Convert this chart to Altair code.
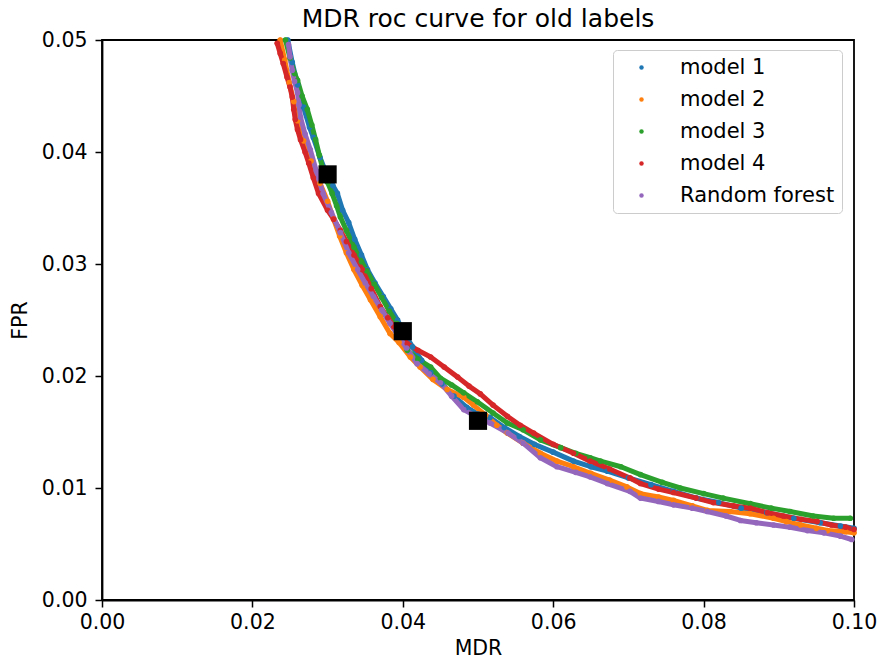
import altair as alt
import pandas as pd

TITLE = "MDR roc curve for old labels"
SERIES = ["model 1", "model 2", "model 3", "model 4", "Random forest"]
COLORS = ["#1f77b4", "#ff7f0e", "#2ca02c", "#d62728", "#9467bd"]

m1_x = [0.0247, 0.0253, 0.0260, 0.0268, 0.0276, 0.0281, 0.0290, 0.0300, 0.0307, 0.0313,
        0.0320, 0.0328, 0.0336, 0.0345, 0.0353, 0.0363, 0.0374, 0.0384, 0.0393, 0.0402,
        0.0413, 0.0425, 0.0437, 0.0452, 0.0468, 0.0485, 0.0500, 0.0516, 0.0535, 0.0555,
        0.0575, 0.0600, 0.0627, 0.0650, 0.0672, 0.0700, 0.0730, 0.0760, 0.0791, 0.0820,
        0.0850, 0.0884, 0.0920, 0.0955, 0.0982, 0.1000]
m1_y = [0.0500, 0.0480, 0.0460, 0.0440, 0.0422, 0.0413, 0.0395, 0.0378, 0.0370, 0.0363,
        0.0348, 0.0337, 0.0322, 0.0308, 0.0295, 0.0283, 0.0271, 0.0260, 0.0250, 0.0238,
        0.0226, 0.0214, 0.0203, 0.0193, 0.0182, 0.0172, 0.0166, 0.0163, 0.0154, 0.0146,
        0.0139, 0.0132, 0.0124, 0.0119, 0.0115, 0.0109, 0.0103, 0.0097, 0.0091, 0.0087,
        0.0082, 0.0078, 0.0073, 0.0069, 0.0066, 0.0064]

m2_x = [0.0237, 0.0243, 0.0249, 0.0255, 0.0260, 0.0268, 0.0278, 0.0290, 0.0300, 0.0308,
        0.0316, 0.0325, 0.0335, 0.0346, 0.0357, 0.0370, 0.0383, 0.0395, 0.0410, 0.0423,
        0.0440, 0.0459, 0.0481, 0.0494, 0.0510, 0.0525, 0.0539, 0.0560, 0.0583, 0.0605,
        0.0627, 0.0650, 0.0675, 0.0698, 0.0716, 0.0740, 0.0760, 0.0785, 0.0805, 0.0835,
        0.0862, 0.0893, 0.0910, 0.0929, 0.0950, 0.0965, 0.0989, 0.1000]
m2_y = [0.0500, 0.0482, 0.0462, 0.0445, 0.0428, 0.0410, 0.0392, 0.0372, 0.0356, 0.0340,
        0.0325, 0.0310, 0.0295, 0.0281, 0.0268, 0.0253, 0.0238, 0.0230, 0.0217, 0.0208,
        0.0197, 0.0188, 0.0181, 0.0174, 0.0165, 0.0156, 0.0149, 0.0140, 0.0131, 0.0124,
        0.0119, 0.0113, 0.0107, 0.0101, 0.0095, 0.0092, 0.0089, 0.0084, 0.0080, 0.0079,
        0.0077, 0.0073, 0.0070, 0.0067, 0.0064, 0.0062, 0.0061, 0.0060]

m3_x = [0.0244, 0.0250, 0.0256, 0.0260, 0.0266, 0.0273, 0.0279, 0.0284, 0.0289, 0.0294,
        0.0300, 0.0306, 0.0312, 0.0317, 0.0325, 0.0335, 0.0345, 0.0352, 0.0362, 0.0372,
        0.0382, 0.0392, 0.0400, 0.0406, 0.0420, 0.0437, 0.0450, 0.0465, 0.0481, 0.0499,
        0.0520, 0.0539, 0.0560, 0.0583, 0.0610, 0.0630, 0.0649, 0.0663, 0.0690, 0.0716,
        0.0745, 0.0769, 0.0800, 0.0826, 0.0862, 0.0890, 0.0915, 0.0946, 0.0973, 0.0995]
m3_y = [0.0500, 0.0484, 0.0470, 0.0464, 0.0450, 0.0438, 0.0424, 0.0411, 0.0397, 0.0384,
        0.0373, 0.0363, 0.0352, 0.0342, 0.0330, 0.0315, 0.0302, 0.0294, 0.0282, 0.0270,
        0.0258, 0.0247, 0.0236, 0.0223, 0.0215, 0.0208, 0.0198, 0.0192, 0.0185, 0.0177,
        0.0167, 0.0158, 0.0152, 0.0143, 0.0136, 0.0131, 0.0127, 0.0124, 0.0119, 0.0112,
        0.0105, 0.0100, 0.0095, 0.0091, 0.0086, 0.0082, 0.0079, 0.0075, 0.0073, 0.0073]

m4_x = [0.0233, 0.0237, 0.0241, 0.0246, 0.0250, 0.0253, 0.0255, 0.0257, 0.0260, 0.0264,
        0.0270, 0.0275, 0.0281, 0.0288, 0.0300, 0.0308, 0.0317, 0.0325, 0.0335, 0.0346,
        0.0358, 0.0370, 0.0380, 0.0388, 0.0397, 0.0406, 0.0420, 0.0437, 0.0455, 0.0473,
        0.0488, 0.0503, 0.0520, 0.0539, 0.0556, 0.0574, 0.0600, 0.0627, 0.0649, 0.0675,
        0.0702, 0.0716, 0.0740, 0.0760, 0.0790, 0.0813, 0.0840, 0.0862, 0.0885, 0.0906,
        0.0930, 0.0951, 0.0970, 0.0989, 0.1000]
m4_y = [0.0497, 0.0488, 0.0479, 0.0467, 0.0458, 0.0449, 0.0438, 0.0429, 0.0420, 0.0411,
        0.0400, 0.0390, 0.0377, 0.0363, 0.0348, 0.0340, 0.0330, 0.0320, 0.0308, 0.0295,
        0.0278, 0.0262, 0.0252, 0.0244, 0.0236, 0.0229, 0.0223, 0.0217, 0.0208, 0.0199,
        0.0191, 0.0184, 0.0174, 0.0164, 0.0156, 0.0149, 0.0139, 0.0131, 0.0124, 0.0117,
        0.0109, 0.0104, 0.0099, 0.0096, 0.0091, 0.0087, 0.0084, 0.0082, 0.0078, 0.0075,
        0.0072, 0.0070, 0.0067, 0.0065, 0.0063]

rf_x = [0.0248, 0.0250, 0.0253, 0.0256, 0.0260, 0.0262, 0.0264, 0.0270, 0.0277, 0.0285,
        0.0294, 0.0305, 0.0317, 0.0328, 0.0340, 0.0350, 0.0361, 0.0372, 0.0383, 0.0393,
        0.0405, 0.0419, 0.0435, 0.0450, 0.0465, 0.0481, 0.0500, 0.0516, 0.0540, 0.0560,
        0.0583, 0.0605, 0.0630, 0.0649, 0.0672, 0.0702, 0.0716, 0.0740, 0.0760, 0.0785,
        0.0805, 0.0830, 0.0849, 0.0870, 0.0893, 0.0915, 0.0938, 0.0960, 0.0982, 0.0997]
rf_y = [0.0496, 0.0485, 0.0473, 0.0463, 0.0453, 0.0442, 0.0431, 0.0416, 0.0402, 0.0383,
        0.0363, 0.0346, 0.0328, 0.0310, 0.0295, 0.0283, 0.0271, 0.0259, 0.0247, 0.0237,
        0.0225, 0.0211, 0.0202, 0.0194, 0.0182, 0.0170, 0.0163, 0.0158, 0.0149, 0.0140,
        0.0127, 0.0119, 0.0114, 0.0110, 0.0104, 0.0097, 0.0091, 0.0088, 0.0085, 0.0082,
        0.0079, 0.0075, 0.0071, 0.0069, 0.0067, 0.0065, 0.0062, 0.0060, 0.0057, 0.0054]

thr_x = [0.03, 0.04, 0.05]
thr_y = [0.038, 0.024, 0.016]

rows = []
for name, xs_, ys_ in zip(SERIES, [m1_x, m2_x, m3_x, m4_x, rf_x], [m1_y, m2_y, m3_y, m4_y, rf_y]):
    for i, (a, b) in enumerate(zip(xs_, ys_)):
        rows.append({"model": name, "MDR": a, "FPR": b, "i": i})
df = pd.DataFrame(rows)
thr = pd.DataFrame({"MDR": thr_x, "FPR": thr_y})

FONT = "DejaVu Sans"
FS = 20.5
xs = alt.Scale(domain=[0, 0.1], nice=False, zero=False)
ys = alt.Scale(domain=[0, 0.05], nice=False, zero=False)
cs = alt.Scale(domain=SERIES, range=COLORS)

xax = alt.Axis(title="MDR", values=[0, 0.02, 0.04, 0.06, 0.08, 0.10], format=".2f",
               grid=False, tickSize=7, tickWidth=1.5, tickColor="black",
               domainColor="black", domainWidth=1.8, labelFontSize=FS, titleFontSize=FS,
               labelFont=FONT, titleFont=FONT, titleFontWeight="normal",
               labelColor="black", titleColor="black", labelPadding=5, titlePadding=6,
               labelFlush=False)
yax = alt.Axis(title="FPR", values=[0, 0.01, 0.02, 0.03, 0.04, 0.05], format=".2f",
               grid=False, tickSize=7, tickWidth=1.5, tickColor="black",
               domainColor="black", domainWidth=1.8, labelFontSize=FS, titleFontSize=FS,
               labelFont=FONT, titleFont=FONT, titleFontWeight="normal",
               labelColor="black", titleColor="black", labelPadding=8, titlePadding=11,
               labelFlush=False)

base = alt.Chart(df)
line_layers = []
for k, (name, col) in enumerate(zip(SERIES, COLORS)):
    enc = dict(x=alt.X("MDR:Q", scale=xs), y=alt.Y("FPR:Q", scale=ys), order="i:Q")
    if k == 0:
        enc["x"] = alt.X("MDR:Q", scale=xs, axis=xax)
        enc["y"] = alt.Y("FPR:Q", scale=ys, axis=yax)
    line_layers.append(
        base.transform_filter(alt.datum.model == name)
        .mark_line(strokeWidth=5, strokeCap="round", strokeJoin="round", color=col)
        .encode(**enc)
    )

pts = base.mark_circle(size=32, opacity=1).encode(
    x=alt.X("MDR:Q", scale=xs),
    y=alt.Y("FPR:Q", scale=ys),
    color=alt.Color("model:N", scale=cs, legend=alt.Legend(
        title=None, orient="none", legendX=511, legendY=10,
        labelFont=FONT, labelFontSize=21, labelColor="black",
        symbolType="circle", symbolSize=20,
        symbolOffset=11, labelOffset=28, rowPadding=10, padding=7,
        strokeColor="#cccccc", cornerRadius=4, fillColor="white",
    )),
)
squares = alt.Chart(thr).mark_square(size=330, color="black", opacity=1).encode(
    x=alt.X("MDR:Q", scale=xs),
    y=alt.Y("FPR:Q", scale=ys),
)

chart = alt.layer(*line_layers, pts, squares).properties(
    width=752, height=560,
    background="white",
    title=alt.TitleParams(TITLE, font=FONT, fontSize=25, fontWeight="normal",
                          color="black", anchor="middle", offset=-2),
    autosize=alt.AutoSizeParams(type="none"),
    padding={"left": 102, "top": 40, "right": 26, "bottom": 59},
).configure_view(stroke="black", strokeWidth=1.8)

chart.save("out.html", embed_options={"renderer": "svg", "actions": False})
